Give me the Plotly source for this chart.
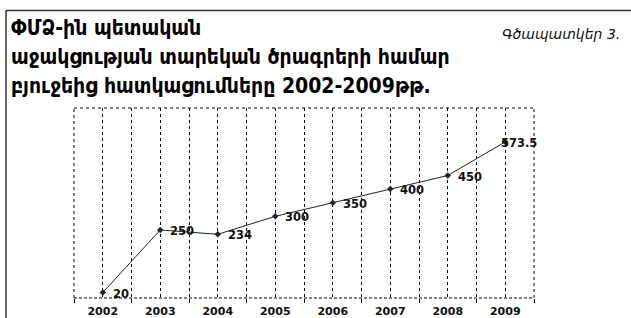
import plotly.graph_objects as go

years = ["2002", "2003", "2004", "2005", "2006", "2007", "2008", "2009"]
values = [20, 250, 234, 300, 350, 400, 450, 573.5]
labels = ["20", "250", "234", "300", "350", "400", "450", "573.5"]

title_lines = [
    "ՓՄՁ-ին պետական",
    "աջակցության տարեկան ծրագրերի համար",
    "բյուջեից հատկացումները 2002-2009թթ.",
]
fig_label = "Գծապատկեր 3."

W, H = 631, 318
L, R, T, B = 74, 97, 108, 20
pw, ph = W - L - R, H - T - B

xs = list(range(len(years)))

fig = go.Figure()
fig.add_trace(go.Scatter(
    x=xs, y=values, mode="lines+markers",
    line=dict(color="#222222", width=1),
    marker=dict(symbol="diamond", size=5, color="#222222"),
    hoverinfo="skip", showlegend=False,
))

for i, (v, t) in enumerate(zip(values, labels)):
    fig.add_annotation(x=xs[i], y=v, text="<b>" + t + "</b>", showarrow=False,
                       xanchor="left", yanchor="middle",
                       xshift=(-6 if i == len(xs) - 1 else 8), yshift=-1,
                       font=dict(family="DejaVu Sans", size=11.5, color="#111111"))

def px2x(p):
    return (p - L) / pw

def px2y(p):
    return (H - B - p) / ph

shapes = [
    dict(type="line", xref="paper", yref="paper", x0=0, x1=1, y0=1, y1=1,
         line=dict(color="black", width=1, dash="dot")),
    dict(type="line", xref="paper", yref="paper", x0=0, x1=0, y0=0, y1=1,
         line=dict(color="black", width=1, dash="dot")),
    dict(type="line", xref="paper", yref="paper", x0=1, x1=1, y0=0, y1=1,
         line=dict(color="black", width=1, dash="dot")),
    dict(type="line", xref="paper", yref="paper", x0=0, x1=1, y0=0, y1=0,
         line=dict(color="black", width=1, dash="3px,2px")),
    dict(type="line", xref="paper", yref="paper", x0=px2x(6), x1=px2x(W), y0=px2y(10.5), y1=px2y(10.5),
         line=dict(color="#333333", width=1.5)),
    dict(type="line", xref="paper", yref="paper", x0=px2x(6), x1=px2x(6), y0=px2y(10.5), y1=px2y(H),
         line=dict(color="#333333", width=1.5)),
]

fig.update_layout(
    template="none",
    width=W, height=H,
    margin=dict(l=L, r=R, t=T, b=B, autoexpand=False),
    paper_bgcolor="white", plot_bgcolor="white",
    shapes=shapes,
    xaxis=dict(
        range=[-0.5, len(years) - 0.5],
        tickvals=xs, ticktext=["<b>" + y + "</b>" for y in years],
        ticks="", ticklen=0, ticklabelstandoff=5,
        showgrid=True, gridcolor="black", griddash="dot", gridwidth=1,
        showline=False, zeroline=False, automargin=False,
        tickfont=dict(family="DejaVu Sans", size=11, color="#111111"),
        minor=dict(tick0=-0.5, dtick=1, showgrid=True, gridcolor="black", griddash="dot",
                   gridwidth=1, ticks="outside", ticklen=4, tickcolor="black", tickwidth=1),
        fixedrange=True,
    ),
    yaxis=dict(range=[0, 698], showgrid=False, showticklabels=False, zeroline=False,
               showline=False, ticks="", fixedrange=True, automargin=False),
)

for k, line in enumerate(title_lines):
    fig.add_annotation(text="<b>" + line + "</b>", xref="paper", yref="paper",
                       x=px2x(9), y=px2y(28 + 29 * k), xanchor="left", yanchor="middle",
                       showarrow=False,
                       font=dict(family="DejaVu Sans Condensed", size=21, color="black"))

fig.add_annotation(text="<i>" + fig_label + "</i>", xref="paper", yref="paper",
                   x=px2x(622), y=px2y(34), xanchor="right", yanchor="middle", showarrow=False,
                   font=dict(family="DejaVu Sans", size=14, color="#111111"))

fig.write_html("out.html", config={"displayModeBar": False},
               post_script="document.body.style.margin='0';document.body.style.overflow='hidden';")
